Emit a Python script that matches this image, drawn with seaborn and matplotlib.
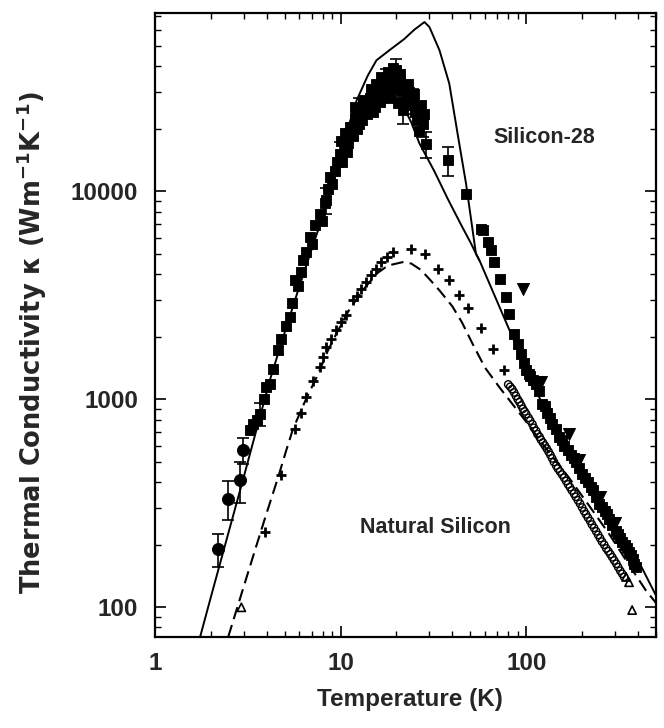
import matplotlib
matplotlib.use("Agg")
import matplotlib.pyplot as plt
import seaborn as sns
from matplotlib.ticker import FixedLocator, NullFormatter

# curve teoriche
solid_T = [1.75, 2.0, 2.5, 3.0, 3.5, 4.15, 5.0, 6.0, 7.0, 8.4, 10.0, 12.2, 14.0, 15.6,
           18.3, 22.0, 25.0, 28.3, 30.1, 34.1, 38.5, 42.7, 47.4, 53.6, 56.0, 70.0,
           85.0, 108, 130, 164, 200, 250, 300, 350, 420, 500]
solid_k = [72, 112, 232, 420, 700, 1230, 2100, 3500, 5300, 8600, 15500, 27400, 36000,
           42700, 47700, 54000, 60000, 65200, 61700, 47700, 33000, 18900, 10900, 5010,
           4660, 2930, 1960, 1195, 850, 588, 440, 320, 250, 200, 155, 114]

fit_T = [10.0, 12.0, 15.0, 18.0, 21.0, 24.0, 26.6, 32.0, 37.8, 45.0, 50.0, 55.9]
fit_k = [15500, 21500, 27000, 29500, 27500, 21500, 17000, 12500, 9200, 6800, 5700, 4660]

dash_T = [2.48, 3.0, 3.5, 4.0, 4.6, 5.1, 5.54, 6.5, 7.5, 8.5, 9.49, 11.0, 13.0, 15.6,
          18.0, 21.6, 24.0, 27.0, 30.0, 34.1, 40.0, 45.0, 51.4, 60.0, 71.6, 85.0,
          100, 130, 170, 220, 280, 350, 440, 500]
dash_k = [72, 125, 195, 285, 420, 570, 720, 1000, 1300, 1700, 2070, 2650, 3300, 4020,
          4400, 4570, 4500, 4200, 3800, 3340, 2800, 2350, 1850, 1420, 1145, 940,
          780, 570, 420, 305, 225, 165, 121, 105]

# silicio-28: quadrati pieni
si28_sq_T = [3.24, 3.38, 3.55, 3.67, 3.85, 3.98, 4.15, 4.35, 4.6, 4.8, 5.05, 5.32, 5.5,
             5.66, 5.9, 6.1, 6.27, 6.5, 6.81, 7.0, 7.3, 7.71, 7.9, 8.2, 8.38, 8.6, 8.73,
             9.0, 9.3, 9.6, 9.88, 10.0, 10.2, 10.5, 10.6, 10.8, 11.0, 11.2, 11.6, 11.9,
             12.0, 12.3, 12.5, 12.6, 13.0, 13.2, 13.5, 13.8, 13.9, 14.4, 14.5, 14.9,
             15.0, 15.3, 15.6, 15.8, 16.1, 16.3, 16.6, 16.9, 17.2, 17.4, 17.6, 18.0,
             18.2, 18.5, 18.8, 19.2, 19.4, 19.7, 19.9, 20.3, 20.5, 20.8, 21.0, 21.2,
             21.6, 22.0, 22.3, 22.8, 23.0, 23.5, 24.0, 24.5, 24.8, 25.3, 25.8, 26.0,
             26.3, 26.8, 27.0, 27.7, 28.2, 28.9, 37.8, 47.4, 57.0, 58.2, 62.0, 64.5,
             67.3, 72.0, 77.8, 81.0, 86.2, 90.0, 93.6, 97.0, 99.6, 103, 105, 109,
             112.7, 117, 122, 126, 130, 134, 138, 144, 150, 155, 160, 167, 175, 180,
             185, 192, 200, 207, 215, 222, 230, 238, 247, 256, 265, 272, 280, 291,
             303, 311, 320, 330, 340, 349, 358, 366, 375, 382, 389]
si28_sq_k = [710, 760, 800, 853, 1000, 1145, 1189, 1400, 1722, 1950, 2250, 2490, 2900,
             3733, 3500, 4100, 4660, 5100, 6026, 5600, 6900, 7820, 7200, 8800, 9050,
             10300, 11700, 10800, 12600, 13800, 15200, 17500, 13900, 16800, 19000,
             15500, 17000, 20400, 18500, 25500, 22500, 20000, 21000, 24500, 22000,
             27500, 26500, 25000, 23500, 28000, 31000, 29500, 24000, 25500, 33000,
             31000, 29500, 27000, 35500, 33000, 31500, 29000, 34200, 37500, 31000,
             28000, 36000, 39000, 33000, 31000, 38200, 35000, 26500, 36800, 33500,
             30500, 24500, 27000, 32000, 28500, 33000, 30000, 26000, 27400, 29500,
             24000, 22000, 25000, 19500, 22500, 26000, 21200, 23500, 16900, 14100,
             9750, 6610, 6500, 5700, 5200, 4570, 3800, 3105, 2580, 2070, 1850, 1660,
             1500, 1378, 1330, 1300, 1240, 1188, 1100, 953, 930, 860, 810, 764, 720,
             660, 640, 600, 570, 540, 520, 500, 470, 440, 420, 400, 380, 365, 340, 315,
             305, 290, 280, 265, 250, 234, 225, 215, 205, 200, 192, 185, 178, 170, 162,
             156]

# silicio-28: cerchi pieni a bassa temperatura
si28_ci_T = [2.19, 2.48, 2.86, 2.98]
si28_ci_k = [191, 333, 408, 569]

# silicio-28: triangoli pieni
si28_tr_T = [95.5, 120, 170, 193, 250, 300]
si28_tr_k = [3404, 1211, 684, 509, 340, 255]

# barre d'errore
err_T = [2.19, 2.48, 2.86, 2.98, 3.67, 8.38, 9.88, 12.6, 17.6, 19.9, 21.6, 24.5, 27.7,
         28.9, 37.8]
err_k = [191, 333, 408, 569, 853, 9050, 15200, 24500, 34200, 38200, 24500, 27400, 21200,
         16900, 14100]
err_d = [35, 70, 90, 80, 110, 1300, 2000, 3500, 4500, 5000, 3500, 3800, 3000, 2500, 2200]

# silicio naturale
nat_pl_T = [3.9, 4.8, 5.66, 6.1, 6.54, 7.1, 7.71, 8.0, 8.38, 8.9, 9.48, 10.1, 10.7,
            11.6, 12.2, 12.9, 13.7, 14.6, 15.5, 16.5, 17.7, 19.1, 24.0, 28.6, 33.3,
            38.5, 43.6, 48.3, 57.1, 66.5, 76.2]
nat_pl_k = [230, 432, 722, 860, 1026, 1220, 1430, 1600, 1784, 1950, 2147, 2350, 2535,
            2993, 3150, 3404, 3650, 3945, 4250, 4571, 4850, 5108, 5305, 5010, 4250,
            3733, 3162, 2760, 2213, 1740, 1378]

nat_oc_T = [80, 82, 84, 86, 88, 90, 92, 94, 96, 98, 100, 103, 105, 108, 110, 113, 115,
            118, 120, 123, 126, 129, 132, 135, 138, 141, 145, 148, 152, 156, 160, 164,
            168, 172, 176, 181, 185, 190, 195, 200, 205, 210, 215, 221, 226, 232, 238,
            244, 250, 256, 263, 270, 277, 284, 291, 298, 306, 313, 321, 329, 337]
nat_oc_k = [1180, 1150, 1120, 1080, 1040, 1000, 970, 935, 900, 875, 850, 815, 790, 760,
            730, 705, 680, 660, 640, 620, 600, 580, 560, 540, 520, 500, 480, 465, 450,
            435, 420, 405, 390, 378, 365, 352, 340, 327, 315, 302, 290, 280, 270, 260,
            250, 241, 232, 223, 215, 207, 200, 192, 186, 180, 174, 168, 162, 156, 150,
            145, 140]

nat_tr_T = [2.92, 345, 358, 372]
nat_tr_k = [100, 140, 132, 97]

sns.set_theme(style="ticks")
plt.rcParams["font.family"] = ["Liberation Sans", "DejaVu Sans"]
plt.rcParams["font.weight"] = "bold"
plt.rcParams["mathtext.fontset"] = "custom"
plt.rcParams["mathtext.rm"] = "DejaVu Sans:bold"
plt.rcParams["mathtext.bf"] = "DejaVu Sans:bold"
plt.rcParams["mathtext.default"] = "bf"

fig = plt.figure(figsize=(6.64, 7.28), dpi=100)
ax = fig.add_axes([0.2334, 0.125, 0.7545, 0.857])
ax.set_xscale("log")
ax.set_yscale("log")

sns.lineplot(x=solid_T, y=solid_k, ax=ax, color="black", lw=1.4, estimator=None)
sns.lineplot(x=fit_T, y=fit_k, ax=ax, color="black", lw=1.4, estimator=None)
sns.lineplot(x=dash_T, y=dash_k, ax=ax, color="black", lw=1.5, estimator=None,
             linestyle=(0, (6, 3)))

ax.errorbar(err_T, err_k, yerr=err_d, fmt="none", ecolor="black", elinewidth=1.2,
            capsize=4, capthick=1.2, zorder=3)

sns.scatterplot(x=si28_sq_T, y=si28_sq_k, ax=ax, marker="s", s=62, color="black",
                edgecolor="black", zorder=4)
sns.scatterplot(x=si28_ci_T, y=si28_ci_k, ax=ax, marker="o", s=75, color="black",
                edgecolor="black", zorder=4)
sns.scatterplot(x=si28_tr_T, y=si28_tr_k, ax=ax, marker="v", s=75, color="black",
                edgecolor="black", zorder=4)
sns.scatterplot(x=nat_pl_T, y=nat_pl_k, ax=ax, marker="+", s=50, color="black",
                linewidth=2, zorder=4)
sns.scatterplot(x=nat_oc_T, y=nat_oc_k, ax=ax, marker="o", s=28, facecolor="none",
                edgecolor="black", linewidth=1, zorder=4)
sns.scatterplot(x=nat_tr_T, y=nat_tr_k, ax=ax, marker="^", s=35, facecolor="none",
                edgecolor="black", linewidth=1.2, zorder=4)

ax.set_xlim(1, 500)
ax.set_ylim(72, 72000)

ax.xaxis.set_major_locator(FixedLocator([1, 10, 100]))
ax.yaxis.set_major_locator(FixedLocator([100, 1000, 10000]))
ax.xaxis.set_minor_formatter(NullFormatter())
ax.yaxis.set_minor_formatter(NullFormatter())
ax.set_xticklabels(["1", "10", "100"], fontsize=17.5, fontweight="bold")
ax.set_yticklabels(["100", "1000", "10000"], fontsize=17.5, fontweight="bold")
ax.tick_params(which="both", direction="in", top=True, right=True, color="black")
ax.tick_params(which="major", length=8, width=1.2)
ax.tick_params(which="minor", length=4.5, width=1.0)
ax.tick_params(axis="x", which="major", pad=11)
ax.tick_params(axis="y", which="major", pad=12)
for sp in ax.spines.values():
    sp.set_linewidth(1.6)
    sp.set_color("black")

ax.text(0.778, 0.801, "Silicon-28", transform=ax.transAxes, ha="center", va="center",
        fontsize=15.5, fontweight="bold")
ax.text(0.559, 0.175, "Natural Silicon", transform=ax.transAxes, ha="center",
        va="center", fontsize=15.5, fontweight="bold")

fig.text(0.617, 0.0385, "Temperature (K)", ha="center", va="center", fontsize=17.5,
         fontweight="bold")
fig.text(0.048, 0.529, "Thermal Conductivity κ (Wm$^{-1}$K$^{-1}$)", ha="center",
         va="center", rotation=90, fontsize=18.5, fontweight="bold",
         family=["DejaVu Sans"])

fig.savefig("out.png", dpi=100)
plt.close()
